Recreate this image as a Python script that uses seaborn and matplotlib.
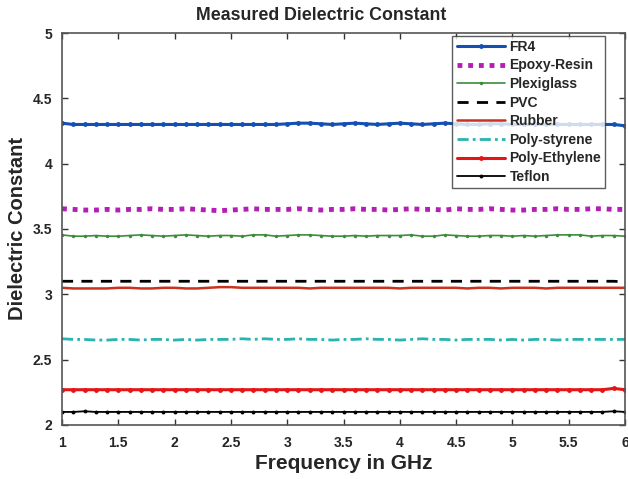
import numpy as np
import pandas as pd
import matplotlib
matplotlib.use("Agg")
import matplotlib.pyplot as plt
import seaborn as sns

sns.set_theme(style="white")
plt.rcParams['font.family'] = ['Liberation Sans', 'DejaVu Sans']

freq = np.linspace(1, 6, 51)

fr4 = [4.31, 4.30, 4.30, 4.30, 4.30, 4.30, 4.30, 4.30, 4.30, 4.30,
       4.30, 4.30, 4.30, 4.30, 4.30, 4.30, 4.30, 4.30, 4.30, 4.30,
       4.305, 4.31, 4.31, 4.305, 4.30, 4.305, 4.31, 4.305, 4.30, 4.305,
       4.31, 4.305, 4.30, 4.305, 4.31, 4.305, 4.30, 4.30, 4.305, 4.305,
       4.30, 4.30, 4.30, 4.30, 4.30, 4.30, 4.30, 4.30, 4.30, 4.30, 4.29]
epoxy = [3.655, 3.65, 3.645, 3.645, 3.65, 3.645, 3.65, 3.65, 3.655, 3.65,
         3.65, 3.655, 3.65, 3.645, 3.64, 3.645, 3.65, 3.655, 3.65, 3.65,
         3.65, 3.655, 3.65, 3.645, 3.65, 3.65, 3.655, 3.65, 3.65, 3.645,
         3.65, 3.655, 3.65, 3.65, 3.645, 3.655, 3.65, 3.65, 3.655, 3.65,
         3.645, 3.645, 3.65, 3.65, 3.655, 3.65, 3.65, 3.655, 3.655, 3.65, 3.65]
plexi = [3.455, 3.445, 3.445, 3.45, 3.445, 3.445, 3.45, 3.455, 3.45, 3.445,
         3.45, 3.455, 3.45, 3.445, 3.45, 3.45, 3.445, 3.455, 3.455, 3.445,
         3.45, 3.455, 3.455, 3.45, 3.445, 3.445, 3.45, 3.445, 3.45, 3.45,
         3.45, 3.455, 3.445, 3.445, 3.455, 3.45, 3.445, 3.445, 3.45, 3.45,
         3.445, 3.45, 3.445, 3.45, 3.455, 3.455, 3.455, 3.445, 3.45, 3.45, 3.445]
pvc = [3.10] * 50 + [3.095]
rubber = [3.05, 3.045, 3.045, 3.045, 3.045, 3.05, 3.05, 3.045, 3.045, 3.05,
          3.05, 3.045, 3.045, 3.05, 3.055, 3.055, 3.05, 3.05, 3.05, 3.05,
          3.05, 3.05, 3.045, 3.05, 3.05, 3.05, 3.05, 3.05, 3.05, 3.05,
          3.045, 3.05, 3.05, 3.05, 3.05, 3.05, 3.045, 3.05, 3.05, 3.045,
          3.05, 3.05, 3.05, 3.045, 3.05, 3.05, 3.05, 3.05, 3.05, 3.05, 3.05]
polystyrene = [2.66, 2.655, 2.655, 2.65, 2.65, 2.655, 2.655, 2.65, 2.655, 2.655,
               2.65, 2.655, 2.65, 2.655, 2.655, 2.655, 2.66, 2.655, 2.66, 2.655,
               2.655, 2.66, 2.655, 2.655, 2.65, 2.655, 2.655, 2.66, 2.655, 2.655,
               2.65, 2.655, 2.66, 2.655, 2.655, 2.65, 2.655, 2.655, 2.655, 2.65,
               2.655, 2.65, 2.655, 2.655, 2.65, 2.655, 2.655, 2.655, 2.655, 2.655, 2.655]
polyethylene = [2.27] * 49 + [2.28, 2.27]
teflon = [2.10, 2.10, 2.105] + [2.10] * 46 + [2.105, 2.10]

names = ["FR4", "Epoxy-Resin", "Plexiglass", "PVC", "Rubber",
         "Poly-styrene", "Poly-Ethylene", "Teflon"]
series = [fr4, epoxy, plexi, pvc, rubber, polystyrene, polyethylene, teflon]

styles = {
    "FR4": dict(color="#1450b4", lw=2.2, ls="-", marker="o", ms=3.5),
    "Epoxy-Resin": dict(color="#b41eb4", lw=3.5, ls=(0, (1, 1.2)), marker=None, ms=0),
    "Plexiglass": dict(color="#3c8c3c", lw=1.2, ls="-", marker="o", ms=2.5),
    "PVC": dict(color="black", lw=2.0, ls=(0, (4, 3)), marker=None, ms=0),
    "Rubber": dict(color="#c8321e", lw=1.8, ls="-", marker=None, ms=0),
    "Poly-styrene": dict(color="#28b4b0", lw=2.0, ls=(0, (4, 1.5, 1, 1.5)), marker=None, ms=0),
    "Poly-Ethylene": dict(color="#e61414", lw=2.2, ls="-", marker="o", ms=3.5),
    "Teflon": dict(color="black", lw=1.3, ls="-", marker="o", ms=2.8),
}

fig = plt.figure(figsize=(6.28, 4.79), dpi=100)
ax = fig.add_axes([62 / 628, 54 / 479, 563 / 628, 392 / 479])

for name, vals in zip(names, series):
    st = styles[name]
    df = pd.DataFrame({"freq": freq, "val": vals})
    sns.lineplot(data=df, x="freq", y="val", ax=ax, color=st["color"],
                 linewidth=st["lw"], linestyle=st["ls"],
                 marker=st["marker"], markersize=st["ms"],
                 markeredgewidth=0, label=name)

ax.set_xlim(1, 6)
ax.set_ylim(2, 5)
ax.set_xticks([1, 1.5, 2, 2.5, 3, 3.5, 4, 4.5, 5, 5.5, 6])
ax.set_xticklabels(["1", "1.5", "2", "2.5", "3", "3.5", "4", "4.5", "5", "5.5", "6"])
ax.set_yticks([2, 2.5, 3, 3.5, 4, 4.5, 5])
ax.set_yticklabels(["2", "2.5", "3", "3.5", "4", "4.5", "5"])
ax.tick_params(direction="in", length=4, width=1, top=True, right=True,
               bottom=True, left=True, labelsize=10, color="#333333")
ax.tick_params(axis="x", pad=8)
ax.tick_params(axis="y", pad=7)
for lab in ax.get_xticklabels() + ax.get_yticklabels():
    lab.set_fontweight("bold")
for sp in ax.spines.values():
    sp.set_color("#555555")
    sp.set_linewidth(1.2)

ax.set_xlabel("Frequency in GHz", fontsize=15, fontweight="bold", labelpad=3)
ax.set_ylabel("Dielectric Constant", fontsize=14.5, fontweight="bold", labelpad=4)
fig.text(321 / 628, 1 - 16 / 479, "Measured Dielectric Constant", fontsize=12.8,
         fontweight="bold", ha="center", va="center")

leg = ax.legend(loc="upper right", bbox_to_anchor=(0.965, 0.993),
                borderaxespad=0, frameon=True, fancybox=False,
                prop=dict(weight="bold", size=10), handlelength=3.5,
                labelspacing=0.33, handletextpad=0.3, borderpad=0.3)
leg.get_frame().set_edgecolor("#333333")
leg.get_frame().set_linewidth(1.0)

fig.savefig("out.png", dpi=100)
